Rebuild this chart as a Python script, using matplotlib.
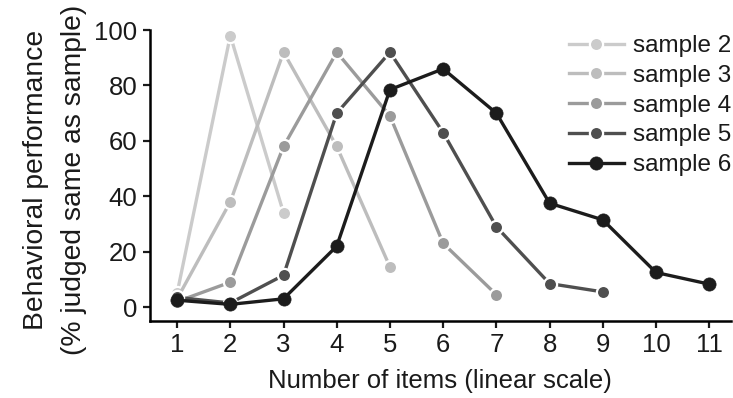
import matplotlib.pyplot as plt

plt.rcParams['font.family'] = ['Liberation Sans', 'DejaVu Sans']

# jumlah item yang ditampilkan
items_s2 = [1, 2, 3]
items_s3 = [1, 2, 3, 4, 5]
items_s4 = [1, 2, 3, 4, 5, 6, 7]
items_s5 = [1, 2, 3, 4, 5, 6, 7, 8, 9]
items_s6 = [1, 2, 3, 4, 5, 6, 7, 8, 9, 10, 11]

# performa (% dinilai sama dengan sampel)
perf_s2 = [5, 98, 34]
perf_s3 = [3, 38, 92, 58, 14.5]
perf_s4 = [2, 9, 58, 92, 69, 23, 4.5]
perf_s5 = [3.5, 1.5, 11.5, 70, 92, 63, 29, 8.5, 5.5]
perf_s6 = [2.5, 1, 3, 22, 78.5, 86, 70, 37.5, 31.5, 12.5, 8.3]

labels = ['sample 2', 'sample 3', 'sample 4', 'sample 5', 'sample 6']
colors = ['#cbcbcb', '#bdbdbd', '#9b9b9b', '#4f4f4f', '#1c1c1c']

fig = plt.figure(figsize=(7.33, 3.98), dpi=100)
ax = fig.add_axes([0.2046, 0.1935, 0.792, 0.731])

series = [(items_s2, perf_s2), (items_s3, perf_s3), (items_s4, perf_s4),
          (items_s5, perf_s5), (items_s6, perf_s6)]
for i, (x, y) in enumerate(series):
    white_edge = i < 4
    ax.plot(x, y, color=colors[i], lw=2.4, marker='o', ms=9.5,
            markeredgecolor='white' if white_edge else colors[i],
            markeredgewidth=1.6 if white_edge else 0.5,
            label=labels[i], zorder=2 + i)

ax.set_xlim(0.49, 11.4)
ax.set_ylim(-5, 100)
ax.set_xticks(range(1, 12))
ax.set_yticks([0, 20, 40, 60, 80, 100])

for side in ['top', 'right']:
    ax.spines[side].set_visible(False)
for side in ['left', 'bottom']:
    ax.spines[side].set_linewidth(1.8)
ax.tick_params(direction='out', length=5, width=1.6, labelsize=18.5,
               colors='#1a1a1a', pad=4)

ax.set_xlabel('Number of items (linear scale)', fontsize=18.5, color='#1a1a1a', labelpad=8)
ax.set_ylabel('Behavioral performance\n(% judged same as sample)', fontsize=20.3,
              color='#1a1a1a', labelpad=5, linespacing=1.6)
ax.yaxis.label.set_y(0.485)

leg = ax.legend(loc='upper right', bbox_to_anchor=(0.998, 0.912), bbox_transform=fig.transFigure,
                frameon=False, fontsize=17.5, handlelength=2.25, handletextpad=0.4,
                labelspacing=0.32, borderaxespad=0, borderpad=0)
for t in leg.get_texts():
    t.set_color('#1a1a1a')

plt.savefig('out.png', dpi=100)
plt.close()
